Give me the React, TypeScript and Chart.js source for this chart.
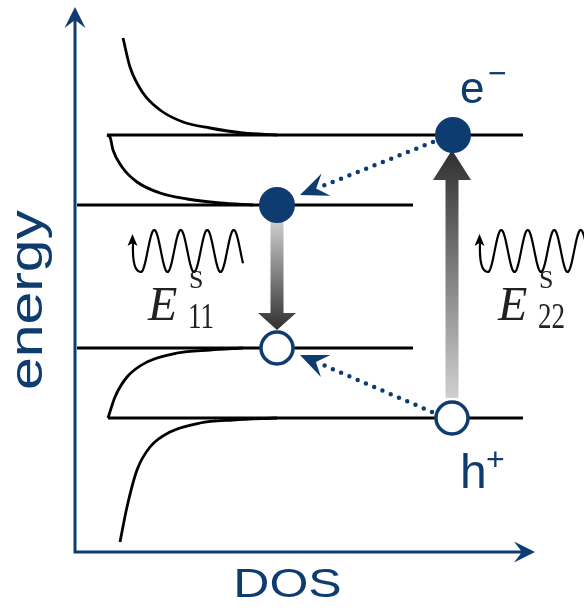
import React, { useEffect, useRef } from 'react';
import { Chart, registerables } from 'chart.js';

Chart.register(...registerables);

// ---- data (DOS in arb. units along x, energy in arb. units along y) ----
// van Hove singularity levels: c2, c1 (conduction), v1, v2 (valence)
const levelEnergies = [417, 347, 204, 134];
const levelStarts = [32, 2, 2, 33];
const levelEnds = [448, 338, 338, 448];

// DOS curves
const bandC2Dos = [48, 55, 68, 85, 108, 135, 168, 202];
const bandC2E = [514, 485, 459, 442, 430, 424, 419, 417];
const bandC1Dos = [32, 35, 38, 47, 62, 85, 112, 145, 178];
const bandC1E = [417, 415, 402, 385, 370, 359, 353, 349, 347];
const bandV1Dos = [33, 40, 52, 72, 102, 135, 168];
const bandV1E = [134, 155, 175, 190, 199, 202, 204];
const bandV2Dos = [45, 52, 62, 75, 95, 125, 158, 202];
const bandV2E = [10, 45, 82, 105, 120, 129, 132, 134];

// carriers: electrons (filled) and holes (open)
const carrierDos = [378, 202, 202, 377];
const carrierE = [417, 347, 204, 134];
const carrierFilled = [true, true, false, false];

const BLUE = '#0f3c70';

type Pt = [number, number];

function barbHead(ctx: CanvasRenderingContext2D, tip: Pt, from: Pt, L: number, W: number, color: string) {
  const dx = tip[0] - from[0];
  const dy = tip[1] - from[1];
  const len = Math.hypot(dx, dy);
  const ux = dx / len, uy = dy / len;
  const nx = -uy, ny = ux;
  ctx.beginPath();
  ctx.moveTo(tip[0], tip[1]);
  ctx.lineTo(tip[0] - L * ux + W * nx, tip[1] - L * uy + W * ny);
  ctx.lineTo(tip[0] - 0.62 * L * ux, tip[1] - 0.62 * L * uy);
  ctx.lineTo(tip[0] - L * ux - W * nx, tip[1] - L * uy - W * ny);
  ctx.closePath();
  ctx.fillStyle = color;
  ctx.fill();
}

function drawText(
  ctx: CanvasRenderingContext2D, text: string, x: number, y: number, font: string,
  color: string, align: CanvasTextAlign = 'left', sx = 1, sy = 1, rot = 0
) {
  ctx.save();
  ctx.translate(x, y);
  if (rot) ctx.rotate(rot);
  ctx.scale(sx, sy);
  ctx.font = font;
  ctx.fillStyle = color;
  ctx.textAlign = align;
  ctx.textBaseline = 'alphabetic';
  ctx.fillText(text, 0, 0);
  ctx.restore();
}

const diagramPlugin = {
  id: 'diagram',
  beforeDatasetsDraw(chart: any) {
    const ctx: CanvasRenderingContext2D = chart.ctx;
    const X = (v: number) => chart.scales.x.getPixelForValue(v);
    const Y = (v: number) => chart.scales.y.getPixelForValue(v);
    ctx.save();

    // axes with arrows
    ctx.strokeStyle = BLUE;
    ctx.lineWidth = 3;
    ctx.lineCap = 'butt';
    ctx.beginPath();
    ctx.moveTo(X(0), Y(536));
    ctx.lineTo(X(0), Y(0));
    ctx.lineTo(X(452), Y(0));
    ctx.stroke();
    barbHead(ctx, [X(0), Y(545)], [X(0), Y(0)], 21, 10.5, BLUE);
    barbHead(ctx, [X(460), Y(0)], [X(0), Y(0)], 21, 10.5, BLUE);

    // gradient arrows (excitation E22 up, emission E11 down)
    const gradArrow = (dos: number, eTail: number, eBase: number, eTip: number) => {
      const x = X(dos), yT = Y(eTail), yB = Y(eBase), yP = Y(eTip);
      const g = ctx.createLinearGradient(0, yT, 0, yP);
      g.addColorStop(0, '#d0d0d0');
      g.addColorStop(1, '#2f2f2f');
      ctx.beginPath();
      ctx.moveTo(x - 6.5, yT);
      ctx.lineTo(x - 6.5, yB);
      ctx.lineTo(x - 19, yB);
      ctx.lineTo(x, yP);
      ctx.lineTo(x + 19, yB);
      ctx.lineTo(x + 6.5, yB);
      ctx.lineTo(x + 6.5, yT);
      ctx.closePath();
      ctx.fillStyle = g;
      ctx.fill();
    };
    gradArrow(377, 154, 372, 402);
    gradArrow(202, 332, 239, 222);

    // dotted relaxation arrows
    const dotted = (t: Pt, h: Pt) => {
      const tail: Pt = [X(t[0]), Y(t[1])];
      const tip: Pt = [X(h[0]), Y(h[1])];
      const dx = tip[0] - tail[0], dy = tip[1] - tail[1];
      const len = Math.hypot(dx, dy);
      const end: Pt = [tip[0] - (dx / len) * 24, tip[1] - (dy / len) * 24];
      ctx.save();
      ctx.strokeStyle = BLUE;
      ctx.lineWidth = 4.5;
      ctx.lineCap = 'round';
      ctx.setLineDash([0, 9]);
      ctx.beginPath();
      ctx.moveTo(tail[0], tail[1]);
      ctx.lineTo(end[0], end[1]);
      ctx.stroke();
      ctx.restore();
      barbHead(ctx, tip, tail, 28, 12, BLUE);
    };
    dotted([358, 410], [225, 357]);
    dotted([357, 140], [225, 197]);

    // photons (wavy lines)
    const wave = (dos0: number, e0: number) => {
      const x0 = X(dos0), yc = Y(e0);
      const A = 21, P = 26.5;
      ctx.save();
      ctx.strokeStyle = '#000';
      ctx.lineWidth = 2.2;
      ctx.lineJoin = 'round';
      ctx.beginPath();
      ctx.moveTo(x0, yc - 8);
      ctx.quadraticCurveTo(x0 - 1, yc + A, x0 + 8, yc + A);
      for (let x = x0 + 8; x <= x0 + 110; x += 0.5) {
        ctx.lineTo(x, yc + A * Math.cos((2 * Math.PI * (x - x0 - 8)) / P));
      }
      ctx.stroke();
      ctx.restore();
      ctx.beginPath();
      ctx.moveTo(x0 - 0.5, yc - 17);
      ctx.lineTo(x0 - 5.5, yc - 5);
      ctx.lineTo(x0 - 0.5, yc - 8);
      ctx.lineTo(x0 + 4.5, yc - 5);
      ctx.closePath();
      ctx.fillStyle = '#000';
      ctx.fill();
    };
    wave(58, 301);
    wave(405, 301);

    ctx.restore();
  },
  afterDatasetsDraw(chart: any) {
    const ctx: CanvasRenderingContext2D = chart.ctx;
    const X = (v: number) => chart.scales.x.getPixelForValue(v);
    const Y = (v: number) => chart.scales.y.getPixelForValue(v);
    const sans = '"Liberation Sans", Arial, sans-serif';
    const serif = '"Liberation Serif", "Times New Roman", serif';

    drawText(ctx, 'energy', X(-33), Y(252), `46px ${sans}`, BLUE, 'center', 1.28, 1, -Math.PI / 2);
    drawText(ctx, 'DOS', X(212.5), Y(-45), `40px ${sans}`, BLUE, 'center', 1.25, 1);

    drawText(ctx, 'e', X(385), Y(449), `44px ${sans}`, BLUE);
    drawText(ctx, '\u2212', X(413), Y(468), `32px ${sans}`, BLUE);
    drawText(ctx, 'h', X(385), Y(64), `48px ${sans}`, BLUE);
    drawText(ctx, '+', X(411), Y(82), `32px ${sans}`, BLUE);

    const label = (dos: number, sub: string) => {
      drawText(ctx, 'E', X(dos), Y(232), `italic 48px ${serif}`, '#222', 'left', 1.0, 1);
      drawText(ctx, 'S', X(dos + 41), Y(264), `26px ${serif}`, '#222', 'left', 1, 1);
      drawText(ctx, sub, X(dos + 40), Y(224), `36px ${serif}`, '#222', 'left', 0.75, 1);
    };
    label(73, '11');
    label(423, '22');
  },
};

export default function App() {
  const ref = useRef<HTMLCanvasElement>(null);

  useEffect(() => {
    const canvas = ref.current;
    if (!canvas) return;

    const curve = (dos: number[], en: number[], smooth: boolean) => ({
      type: 'scatter' as const,
      data: dos.map((x, i) => ({ x, y: en[i] })),
      showLine: true,
      borderColor: '#000',
      borderWidth: 2.8,
      pointRadius: 0,
      cubicInterpolationMode: smooth ? ('monotone' as const) : ('default' as const),
      tension: 0,
      order: 1,
    });

    const datasets: any[] = [
      {
        type: 'scatter',
        label: 'carriers',
        data: carrierDos.map((x, i) => ({ x, y: carrierE[i] })),
        pointRadius: carrierFilled.map((f) => (f ? 18 : 16)),
        pointBackgroundColor: carrierFilled.map((f) => (f ? BLUE : '#ffffff')),
        pointBorderColor: BLUE,
        pointBorderWidth: carrierFilled.map((f) => (f ? 0 : 3.5)),
        showLine: false,
        order: 0,
      },
      ...levelEnergies.map((e, i) => curve([levelStarts[i], levelEnds[i]], [e, e], false)),
      curve(bandC2Dos, bandC2E, true),
      curve(bandC1Dos, bandC1E, true),
      curve(bandV1Dos, bandV1E, true),
      curve(bandV2Dos, bandV2E, true),
    ];

    const chart = new Chart(canvas, {
      type: 'scatter',
      data: { datasets },
      options: {
        responsive: false,
        animation: false,
        devicePixelRatio: 1,
        events: [],
        layout: { autoPadding: false, padding: { left: 75, right: 49, top: 7, bottom: 60 } },
        scales: {
          x: { type: 'linear', min: 0, max: 460, display: false },
          y: { type: 'linear', min: 0, max: 545, display: false },
        },
        plugins: { legend: { display: false }, tooltip: { enabled: false } },
      },
      plugins: [diagramPlugin],
    });

    return () => chart.destroy();
  }, []);

  return (
    <canvas
      ref={ref}
      width={584}
      height={612}
      style={{ position: 'fixed', left: 0, top: 0, background: '#fff' }}
    />
  );
}
